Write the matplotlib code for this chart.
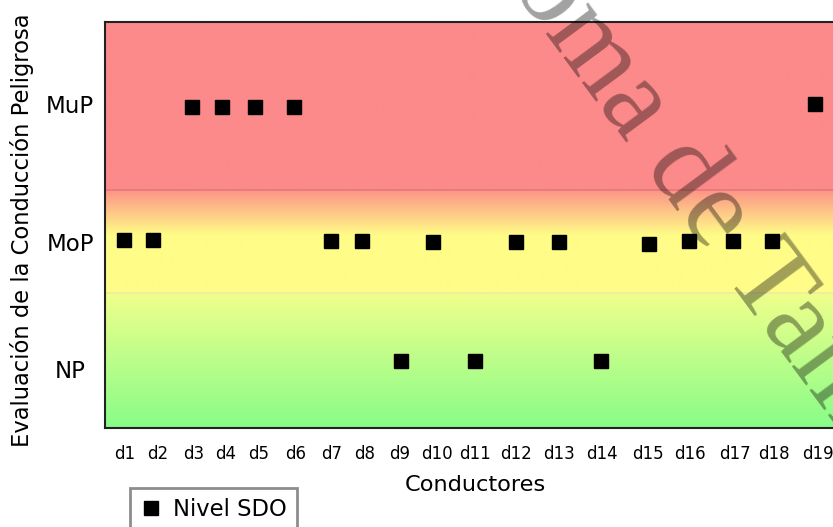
import numpy as np
import matplotlib
matplotlib.use("Agg")
import matplotlib.pyplot as plt
from matplotlib.lines import Line2D

# ---- data ----
drivers = ["d1", "d2", "d3", "d4", "d5", "d6", "d7", "d8", "d9", "d10",
           "d11", "d12", "d13", "d14", "d15", "d16", "d17", "d18", "d19"]
# horizontal positions of the points (axis units)
x_points = [0.50, 1.26, 2.29, 3.08, 3.95, 4.97, 5.96, 6.77, 7.80, 8.64,
            9.75, 10.83, 11.96, 13.07, 14.33, 15.39, 16.55, 17.58, 18.71]
# horizontal positions of the tick labels (axis units)
x_ticks = [0.53, 1.40, 2.35, 3.19, 4.06, 5.03, 5.96, 6.85, 7.77, 8.75,
           9.75, 10.83, 11.96, 13.10, 14.31, 15.42, 16.60, 17.63, 18.79]
# level of each driver on a 0-100 scale (NP ~16, MoP ~46, MuP ~79)
y_values = [46.3, 46.3, 79.1, 79.1, 79.1, 79.1, 46.1, 46.1, 16.5, 45.9,
            16.5, 45.9, 45.9, 16.5, 45.4, 46.1, 46.1, 46.1, 79.8]
level_labels = ["NP", "MoP", "MuP"]
level_ticks = [14.5, 45.8, 79.8]
band_np_top = 33.3
band_mop_top = 58.6

W, H = 833, 527
fig = plt.figure(figsize=(W / 100, H / 100), dpi=100)
ax = fig.add_axes([105 / W, 1 - 428 / H, 740 / W, 406 / H])
ax.set_xlim(0, 19.5)
ax.set_ylim(0, 100)

# ---- background bands with gradients ----
yy = np.linspace(0, 100, 1200)
red = np.array([252, 138, 138]) / 255
redline = np.array([230, 120, 120]) / 255
yellow = np.array([255, 252, 136]) / 255
ylline = np.array([236, 236, 160]) / 255
ltgreen = np.array([240, 255, 140]) / 255
green = np.array([136, 252, 136]) / 255
grad_end = 47.5
img = np.zeros((len(yy), 1, 3))
for i, v in enumerate(yy):
    if v >= band_mop_top:
        c = red
    elif v >= grad_end:
        t = (band_mop_top - v) / (band_mop_top - grad_end)
        c = np.array([252, 148, 135]) / 255 * (1 - t) + yellow * t
    elif v >= band_np_top:
        c = yellow
    else:
        t = (band_np_top - v) / band_np_top
        c = ltgreen * (1 - t) + green * t
    img[i, 0] = c
ax.imshow(img, origin="lower", extent=[0, 19.5, 0, 100], aspect="auto",
          interpolation="bilinear", zorder=0)
ax.axhline(band_mop_top, color=redline, lw=1.2, zorder=1)
ax.axhline(band_np_top, color=ylline, lw=1.2, zorder=1)

# ---- points ----
ax.plot(x_points, y_values, linestyle="none", marker="s", markersize=10,
        color="black", zorder=3)

ax.set_xticks(x_ticks)
ax.set_xticklabels(drivers)
ax.set_yticks(level_ticks)
ax.set_yticklabels(level_labels)
ax.tick_params(axis="x", length=0, pad=12, labelsize=12)
ax.tick_params(axis="y", length=0, pad=25, labelsize=16.5)
for lab in ax.get_yticklabels():
    lab.set_horizontalalignment("center")
for s in ["top", "left", "bottom"]:
    ax.spines[s].set_linewidth(1.5)
    ax.spines[s].set_color("#222222")
ax.spines["right"].set_visible(False)

ax.set_xlabel("Conductores", fontsize=16.2, labelpad=9)
fig.text(22 / W, 1 - 230 / H, "Evaluación de la Conducción Peligrosa",
         rotation=90, ha="center", va="center", fontsize=16.3)

# ---- legend ----
handle = Line2D([], [], linestyle="none", marker="s", markersize=10, color="black")
leg = fig.legend([handle], ["Nivel SDO"], loc="upper left",
                 bbox_to_anchor=(130 / W, 1 - 488 / H), fontsize=16.3,
                 frameon=True, fancybox=False, handletextpad=0.5,
                 handlelength=1.0, borderpad=0.42, borderaxespad=0)
leg.get_frame().set_edgecolor("#707070")
leg.get_frame().set_linewidth(2)

# ---- watermark ----
fig.text(340 / W, 1 + 243 / H, "Autónoma de Tamaulipas", rotation=-53.5,
         rotation_mode="anchor", ha="left", va="baseline",
         fontsize=82, family="Liberation Serif", color="black", alpha=0.37,
         zorder=10)

fig.savefig("out.png", dpi=100)
